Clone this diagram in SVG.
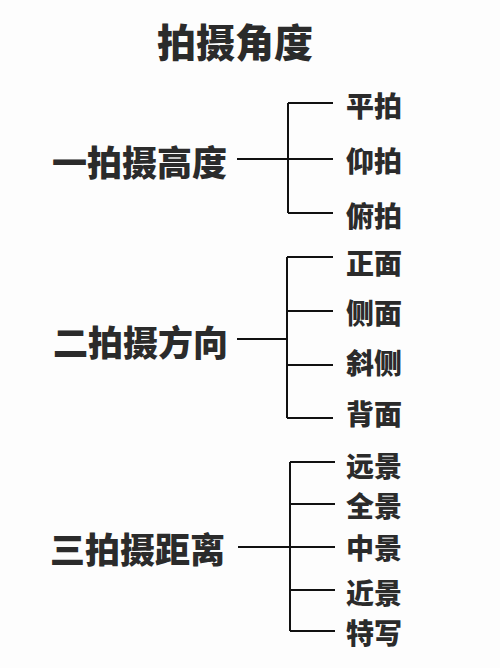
<svg xmlns="http://www.w3.org/2000/svg" width="500" height="668" viewBox="0 0 500 668">
<style>
text{font-family:"Noto Sans CJK SC","Noto Sans",sans-serif;font-weight:900;fill:#2b2b2b;dominant-baseline:central}
.t{font-size:39px;text-anchor:middle}
.m{font-size:35px}
.c{font-size:28px}
.ln{stroke:#111;stroke-width:2;fill:none}
</style>
<rect width="500" height="668" fill="#fdfdfd"/>
<g id="title"><text class="t" x="235" y="40">拍摄角度</text></g>
<g id="connectors">
<path class="ln" d="M237 159H333M288 103V213M288 103H333M288 213H333"/>
<path class="ln" d="M237 339H287M287 257V418M287 257H333M287 311H333M287 365H333M287 418H333"/>
<path class="ln" d="M238 547H335M290 462V631M290 462H335M290 504H335M290 590H335M290 631H335"/>
</g>
<g id="n1"><text class="m" x="52" y="160">一拍摄高度</text></g>
<g id="n1a"><text class="c" x="346" y="105">平拍</text></g>
<g id="n1b"><text class="c" x="346" y="160">仰拍</text></g>
<g id="n1c"><text class="c" x="346" y="215">俯拍</text></g>
<g id="n2"><text class="m" x="53" y="340">二拍摄方向</text></g>
<g id="n2a"><text class="c" x="346" y="262">正面</text></g>
<g id="n2b"><text class="c" x="346" y="312">侧面</text></g>
<g id="n2c"><text class="c" x="346" y="362">斜侧</text></g>
<g id="n2d"><text class="c" x="346" y="413">背面</text></g>
<g id="n3"><text class="m" x="50" y="547">三拍摄距离</text></g>
<g id="n3a"><text class="c" x="346" y="465">远景</text></g>
<g id="n3b"><text class="c" x="346" y="505">全景</text></g>
<g id="n3c"><text class="c" x="346" y="547">中景</text></g>
<g id="n3d"><text class="c" x="346" y="592">近景</text></g>
<g id="n3e"><text class="c" x="346" y="632">特写</text></g>
</svg>
